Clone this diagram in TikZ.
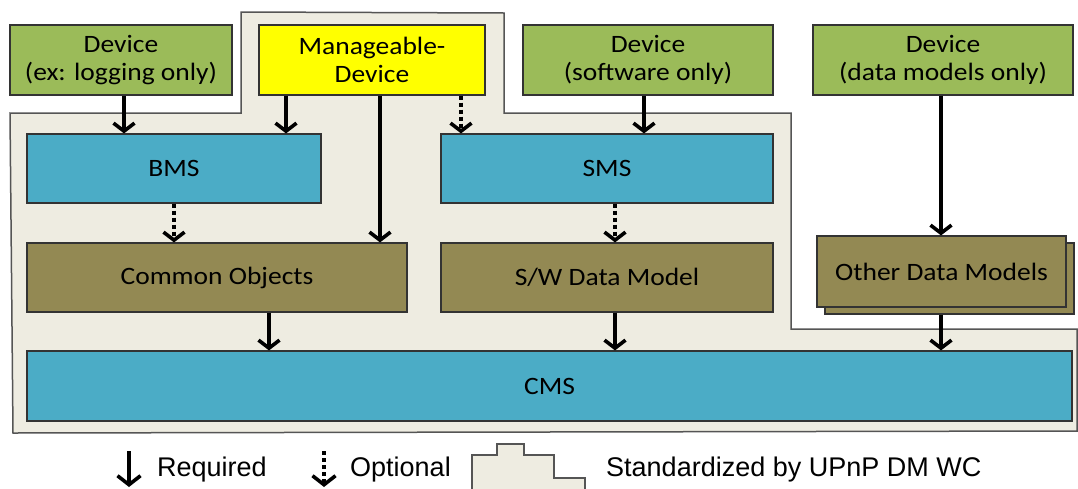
\documentclass[tikz,border=0pt]{standalone}
\usepackage{fontspec}
\setmainfont{Carlito}[FakeStretch=1.1]
\newfontfamily\legendfont{Liberation Sans}
\usetikzlibrary{arrows.meta}

\definecolor{devgreen}{HTML}{9BBB59}
\definecolor{mdevyellow}{HTML}{FFFF00}
\definecolor{mgmtblue}{HTML}{4BACC6}
\definecolor{modelolive}{HTML}{938953}
\definecolor{stdbeige}{HTML}{EEECE1}
\definecolor{boxline}{HTML}{333333}
\definecolor{stdline}{HTML}{555555}

\begin{document}
\begin{tikzpicture}[x=1pt,y=-1pt,
    box/.style={draw=boxline, line width=1.2pt, inner sep=0pt, align=center,
      font=\fontsize{25}{28}\selectfont},
    devbox/.style={box, fill=devgreen, minimum height=70pt},
    mgmtbox/.style={box, fill=mgmtblue, minimum height=69pt},
    modelbox/.style={box, fill=modelolive, minimum height=69pt},
    stdarea/.style={fill=stdbeige, draw=stdline, line width=1.5pt},
    req/.style={line width=3.6pt, -{Straight Barb[length=8pt,width=21pt]}},
    opt/.style={req, dash pattern=on 4pt off 3pt},
    legendtext/.style={anchor=west, inner sep=0pt, font=\legendfont\fontsize{27}{30}\selectfont}]
    \useasboundingbox (0,0) rectangle (1078,488);

    % standardized area
    \draw[stdarea] (10,113) -- (241,113) -- (241,12) -- (504,13) -- (504,113) -- (791,113)
        -- (791,329) -- (1077,329) -- (1077,431) -- (13,433) -- cycle;

    % devices
    \node[devbox, minimum width=222pt] (dev1) at (121,60) {Device\\(ex: logging only)};
    \node[box, fill=mdevyellow, minimum width=226pt, minimum height=70pt] (mdev) at (372,60) {Manageable-\\Device};
    \node[devbox, minimum width=250pt] (dev2) at (648,60) {Device\\(software only)};
    \node[devbox, minimum width=260pt] (dev3) at (943,60) {Device\\(data models only)};

    % management services and data models
    \node[mgmtbox, minimum width=294pt] (bms) at (174,168.5) {BMS};
    \node[mgmtbox, minimum width=332pt] (sms) at (607,168.5) {SMS};
    \node[modelbox, minimum width=380pt] (common) at (217,277.5) {Common Objects};
    \node[modelbox, minimum width=332pt] (swdm) at (607,277.5) {S/W Data Model};
    \node[modelbox, minimum width=249pt, minimum height=71pt] (othersh) at (949.5,278.5) {};
    \node[modelbox, minimum width=249pt, minimum height=71pt] (other) at (941.5,271.5) {Other Data Models};
    \node[mgmtbox, minimum width=1045pt, minimum height=70pt] (cms) at (549.5,386) {CMS};

    % connectors
    \draw[req] ([xshift=3pt]dev1.south) -- ([xshift=-50pt]bms.north);
    \draw[req] ([xshift=-86pt]mdev.south) -- ([xshift=112pt]bms.north);
    \draw[req] ([xshift=8pt]mdev.south) -- ([xshift=163pt]common.north);
    \draw[opt] ([xshift=89pt]mdev.south) -- ([xshift=-146pt]sms.north);
    \draw[opt] (bms.south) -- ([xshift=-43pt]common.north);
    \draw[req] ([xshift=-4pt]dev2.south) -- ([xshift=37pt]sms.north);
    \draw[opt] ([xshift=8pt]sms.south) -- ([xshift=8pt]swdm.north);
    \draw[req] ([xshift=-2pt]dev3.south) -- ([xshift=-0.5pt]other.north);
    \draw[req] ([xshift=52pt]common.south) -- ([xshift=-280.5pt]cms.north);
    \draw[req] ([xshift=8pt]swdm.south) -- ([xshift=65.5pt]cms.north);
    \draw[req] ([xshift=-8.5pt]othersh.south) -- ([xshift=391.5pt]cms.north);

    % legend
    \coordinate (reqtop) at (129,451);
    \coordinate (reqbot) at (129,487);
    \coordinate (opttop) at (324,451);
    \coordinate (optbot) at (324,487);
    \draw[req, -{Straight Barb[length=9pt,width=23pt]}] (reqtop) -- (reqbot);
    \node[legendtext] (reqtxt) at (157,470) {Required};
    \draw[opt, -{Straight Barb[length=9pt,width=23pt]}] (opttop) -- (optbot);
    \node[legendtext] (opttxt) at (350,470) {Optional};
    \draw[stdarea] (472,492) -- (472,455) -- (497,455) -- (497,444) -- (524,444) -- (524,455)
        -- (554,455) -- (554,478) -- (585,478) -- (585,492) -- cycle;
    \node[legendtext] (stdtxt) at (606,470) {Standardized by UPnP DM WC};
\end{tikzpicture}
\end{document}
